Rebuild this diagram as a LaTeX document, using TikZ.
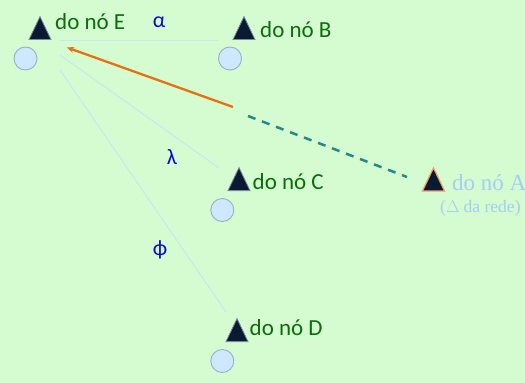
\documentclass[tikz,border=0pt]{standalone}
\usepackage{fontspec}
\setmainfont{Carlito}
\newfontfamily\rmA{Liberation Serif}
\usetikzlibrary{positioning,arrows.meta,shapes.geometric}
\definecolor{bg}{HTML}{D5FBD0}
\definecolor{navy}{HTML}{0B1A33}
\definecolor{edge}{HTML}{7C879C}
\definecolor{peach}{HTML}{F39A68}
\definecolor{bubble}{HTML}{CDE8FF}
\definecolor{bubbleedge}{HTML}{9BAFC6}
\definecolor{nodetxt}{HTML}{0A6E0A}
\definecolor{greek}{HTML}{0A0ACF}
\definecolor{faint}{HTML}{C6E8F2}
\definecolor{route}{HTML}{E8700F}
\definecolor{teal}{HTML}{24898A}
\definecolor{ghost}{HTML}{A6CDF5}
\tikzset{
  >={Stealth[length=7pt,width=6pt]},
  hub/.style={isosceles triangle, isosceles triangle apex angle=52,
              shape border rotate=90, isosceles triangle stretches,
              minimum width=22pt, minimum height=23pt, inner sep=0pt,
              anchor=south, fill=navy, draw=edge, line width=0.8pt},
  host/.style={circle, minimum size=23pt, inner sep=0pt,
               fill=bubble, draw=bubbleedge, line width=0.9pt},
  lbl/.style={anchor=west, inner sep=0pt, text=nodetxt, font=\fontsize{23}{25}\selectfont},
  gk/.style={inner sep=0pt, text=greek, font=\fontsize{22}{24}\selectfont},
  link/.style={draw=faint, line width=1pt},
  l/.style={->, draw=route, line width=2.3pt},
  back/.style={draw=teal, line width=2.5pt, dash pattern=on 8pt off 7pt},
}
\begin{document}
\begin{tikzpicture}[x=1pt, y=-1pt]
  \useasboundingbox[fill=bg] (0,0) rectangle (525,383);
  % routers
  \node[hub] (triE) at (40,40) {};
  \node[hub] (triB) at (244,40) {};
  \node[hub] (triC) at (239,191) {};
  \node[hub] (triD) at (237,342) {};
  \node[hub, draw=peach, line width=1.2pt] (triA) at (433.5,191.5) {};
  % hosts
  \node[host] (circE) at (25.5,58.5) {};
  \node[host] (circB) at (230,58.5) {};
  \node[host] (circC) at (222.3,210) {};
  \node[host] (circD) at (222.3,361) {};
  % names
  \node[lbl] (labE) at (55,22) {do nó E};
  \node[lbl] (labB) at (260,30) {do nó B};
  \node[lbl] (labC) at (252.5,182) {do nó C};
  \node[lbl] (labD) at (249.5,328) {do nó D};
  \node[lbl, text=ghost, font=\rmA\fontsize{23}{25}\selectfont] (labA) at (452,183) {do nó A};
  \node[lbl, text=ghost, font=\rmA\fontsize{17.5}{19}\selectfont] (subA) at (440,208) {($\Delta$ da rede)};
  % link costs
  \node[gk] (alpha) at (159,22) {α};
  \node[gk] (lambda) at (172,157) {λ};
  \node[gk] (phi) at (160,250) {ϕ};
  % links from E
  \coordinate (outB) at (60,40.5);
  \coordinate (outC) at (60,55);
  \coordinate (outD) at (60,70);
  \coordinate (inB) at (218,40.5);
  \coordinate (inC) at (219,168);
  \coordinate (inD) at (226,312);
  \draw[link] (outB) -- (inB);
  \draw[link] (outC) -- (inC);
  \draw[link] (outD) -- (inD);
  % advertised route
  \coordinate (tipE) at (67,47.5);
  \coordinate (brk) at (233,107);
  \coordinate (brk2) at (248,116);
  \coordinate (endA) at (407,177);
  \draw[l] (brk) -- (tipE);
  \draw[back] (brk2) -- (endA);
\end{tikzpicture}
\end{document}
